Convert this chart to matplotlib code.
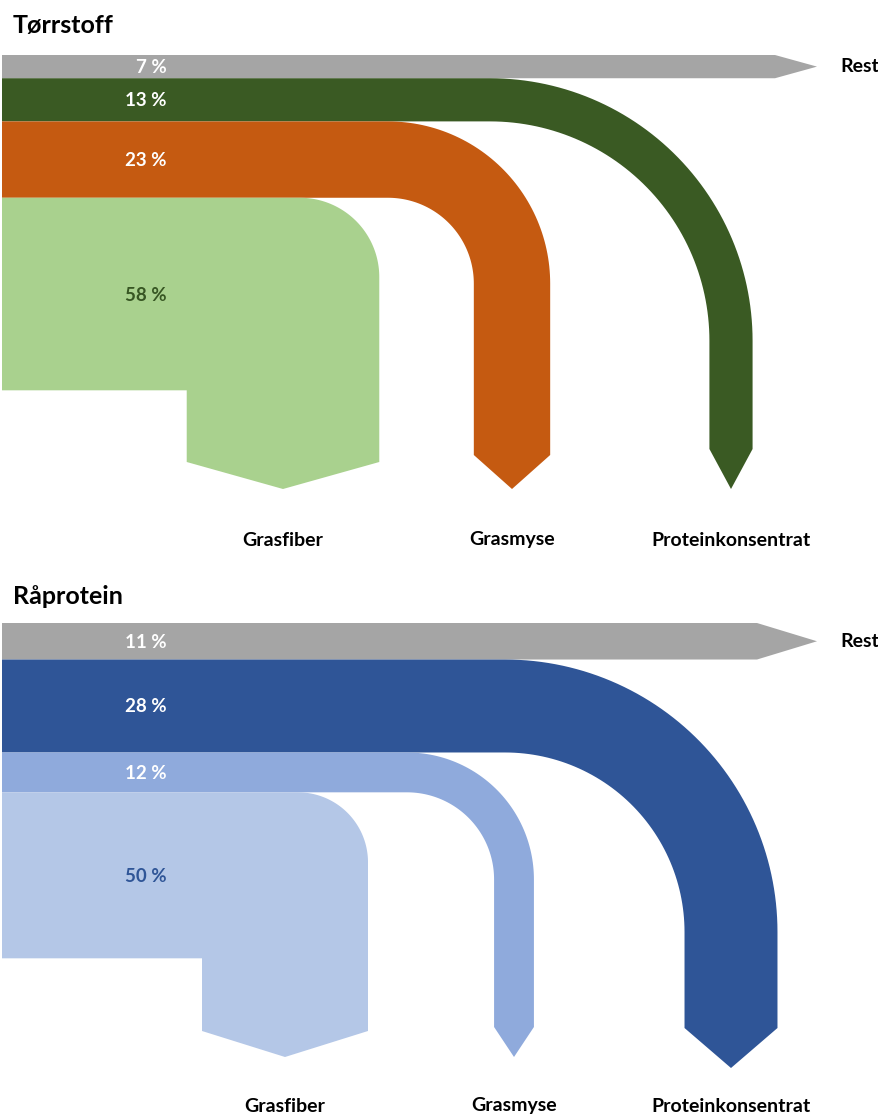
import numpy as np
import matplotlib
matplotlib.use("Agg")
import matplotlib.pyplot as plt

plt.rcParams['font.family'] = ['Lato', 'DejaVu Sans']

# flow order from top: rest first, then the three products (outer to inner)
categories = ["Rest", "Proteinkonsentrat", "Grasmyse", "Grasfiber"]
titles = ["Tørrstoff", "Råprotein"]
torrstoff = [7, 13, 23, 58]
raprotein = [11, 28, 12, 50]

GREY = "#A5A5A5"
colors_top = [GREY, "#3A5A23", "#C55A11", "#A9D18E"]
colors_bot = [GREY, "#2F5597", "#8FAADC", "#B4C7E7"]
label_dark_top = "#375623"
label_dark_bot = "#2F5597"

# layout (pixel units, y downwards)
PX = 3.32          # pixels per percent
X_LEFT = 2
panels = [
    dict(title_y=25, y0=55, rest_end=775, outlets=[731, 512, 283],
         arc_x=[490, 388, 300], tips=[489, 489, 489], heads=[40, 34, 27],
         name_y=540),
    dict(title_y=596, y0=623, rest_end=757, outlets=[731, 514, 285],
         arc_x=[505, 407, 298], tips=[1068, 1057, 1057], heads=[40, 30, 26],
         name_y=1106),
]
REST_TIP = 817


def band_poly(y_t, y_b, xc_out, cx, tip, head):
    w = y_b - y_t
    xo_l, xo_r = xc_out - w / 2, xc_out + w / 2
    R = xo_r - cx
    r = R - w
    cy = y_t + R
    t = np.linspace(0, np.pi / 2, 60)
    pts = [(X_LEFT, y_t), (cx, y_t)]
    pts += list(zip(cx + R * np.sin(t), cy - R * np.cos(t)))
    y_end = tip - head
    pts += [(xo_r, y_end), (xc_out, tip), (xo_l, y_end)]
    if r > 0:
        ti = t[::-1]
        pts += list(zip(cx + r * np.sin(ti), cy - r * np.cos(ti)))
    else:
        pts += [(xo_l, y_b)]
    pts += [(X_LEFT, y_b)]
    return np.array(pts)


fig = plt.figure(figsize=(8.79, 11.18), dpi=100)
ax = fig.add_axes([0, 0, 1, 1])
ax.set_xlim(0, 879)
ax.set_ylim(1118, 0)
ax.axis('off')

for title, vals, cols, dark, lay in zip(titles, [torrstoff, raprotein],
                                        [colors_top, colors_bot],
                                        [label_dark_top, label_dark_bot], panels):
    ax.text(13, lay['title_y'], title, fontsize=18, fontweight='bold',
            ha='left', va='center')
    edges = lay['y0'] + np.concatenate([[0], np.cumsum(vals)]) * PX

    # rest arrow pointing right
    y_t, y_b = edges[0], edges[1]
    ax.fill([X_LEFT, lay['rest_end'], REST_TIP, lay['rest_end'], X_LEFT],
            [y_t, y_t, (y_t + y_b) / 2, y_b, y_b], color=cols[0], lw=0)
    ax.text(840, (y_t + y_b) / 2, categories[0], fontsize=14, fontweight='bold',
            ha='left', va='center')

    # product flows bending down
    for i in range(1, 4):
        p = band_poly(edges[i], edges[i + 1], lay['outlets'][i - 1],
                      lay['arc_x'][i - 1], lay['tips'][i - 1], lay['heads'][i - 1])
        ax.fill(p[:, 0], p[:, 1], color=cols[i], lw=0)
        ax.text(lay['outlets'][i - 1], lay['name_y'], categories[i], fontsize=14,
                fontweight='bold', ha='center', va='center')

    for i, v in enumerate(vals):
        c = dark if i == 3 else "white"
        ax.text(167, (edges[i] + edges[i + 1]) / 2 + 1, f"{v} %", fontsize=13.5,
                fontweight='bold', color=c, ha='right', va='center')

fig.savefig("out.png", dpi=100, facecolor="white")
